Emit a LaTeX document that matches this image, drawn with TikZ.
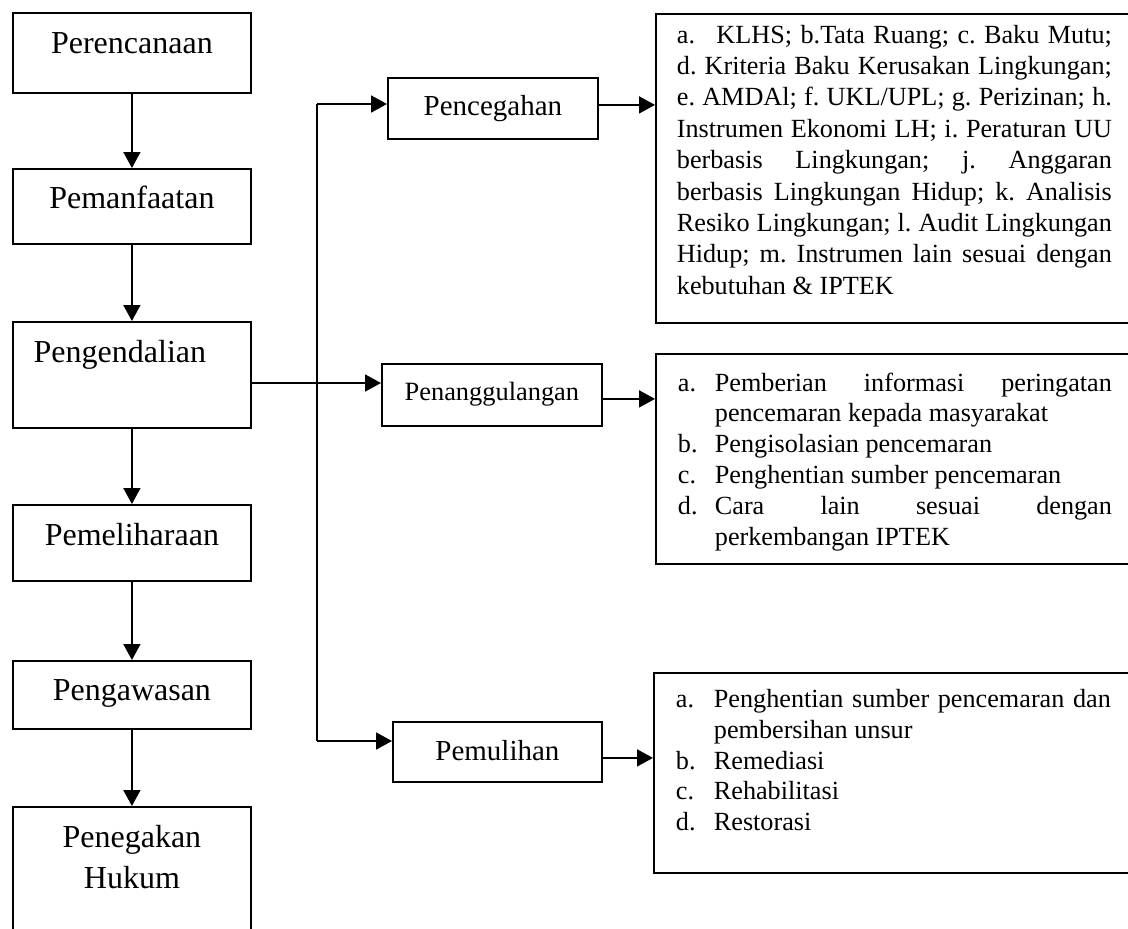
\documentclass[tikz,border=0pt]{standalone}
\usepackage{fontspec}
\setmainfont{Liberation Serif}
\usetikzlibrary{arrows.meta}
\frenchspacing
\newcommand{\hitem}[2][18.5pt]{\par\hangindent=#1\hangafter=1\noindent\makebox[#1][l]{#2}}
\begin{document}
\begin{tikzpicture}[x=0.5pt,y=-0.5pt,line width=0.9pt]
    \tikzstyle{stage}=[draw,anchor=north west,minimum width=119pt,inner sep=0pt,font=\fontsize{16}{20.5}\selectfont]
    \tikzstyle{branch}=[draw,anchor=north west,inner sep=0pt,font=\fontsize{14.5}{17}\selectfont]
    \tikzset{
    list box/.style={draw,anchor=north west,inner xsep=11pt,font=\fontsize{13.1}{15.4}\selectfont},
    arr/.style={-{Triangle[length=8pt,width=8.5pt]}}
    }
    \useasboundingbox (0,0) rectangle (1128,928);
    % left column
    \node[stage,text height=20.5pt,text depth=19.5pt] (perencanaan) at (12,12) {Perencanaan};
    \node[stage,text height=20pt,text depth=17.5pt] (pemanfaatan) at (12,168) {Pemanfaatan};
    \node[stage,text height=20.5pt,text depth=32.5pt] (pengendalian) at (12,321) {Pengendalian\hspace*{12pt}};
    \node[stage,text height=20.5pt,text depth=17.5pt] (pemeliharaan) at (12,504) {Pemeliharaan};
    \node[stage,text height=20pt,text depth=14pt] (pengawasan) at (12,660) {Pengawasan};
    \node[stage,text height=41pt,text depth=26pt] (penegakan) at (12,806) {\parbox[b]{119pt}{\centering Penegakan\\Hukum}};
    \draw[arr] (perencanaan) -- (pemanfaatan);
    \draw[arr] (pemanfaatan) -- (pengendalian);
    \draw[arr] (pengendalian) -- (pemeliharaan);
    \draw[arr] (pemeliharaan) -- (pengawasan);
    \draw[arr] (pengawasan) -- (penegakan);
    % middle column
    \node[branch,minimum width=105pt,text height=19pt,text depth=11.5pt] (pencegahan) at (387,77) {Pencegahan};
    \node[branch,minimum width=110pt,text height=18.5pt,text depth=12.5pt,font=\fontsize{13.2}{16}\selectfont] (penanggulangan) at (381,363) {Penanggulangan};
    \node[branch,minimum width=104.5pt,text height=19.5pt,text depth=10.5pt] (pemulihan) at (392,721) {Pemulihan};
    \coordinate (split) at (317,383);
    \coordinate (top) at (317,104);
    \coordinate (bottom) at (317,741);
    \draw (pengendalian.east |- split) -- (split);
    \draw (top) -- (bottom);
    \draw[arr] (split) -- (split -| penanggulangan.west);
    \draw[arr] (top) -- (top -| pencegahan.west);
    \draw[arr] (bottom) -- (bottom -| pemulihan.west);
    % right column
    \node[list box,inner xsep=10.5pt,inner ysep=5.5pt,font=\fontsize{13.1}{15.7}\selectfont] (instrumen) at (655,13) {\parbox[c][143.5pt][t]{217.5pt}{\sloppy\hyphenpenalty=10000
    a.\hspace{10.7pt}KLHS; b.Tata Ruang; c. Baku Mutu;\linebreak
    d. Kriteria Baku Kerusakan Lingkungan;\linebreak
    e. AMDAl; f. UKL/UPL; g. Perizinan; h.\linebreak
    Instrumen Ekonomi LH; i. Peraturan UU\linebreak
    berbasis Lingkungan; j. Anggaran\linebreak
    berbasis Lingkungan Hidup; k. Analisis\linebreak
    Resiko Lingkungan; l. Audit Lingkungan\linebreak
    Hidup; m. Instrumen lain sesuai dengan\linebreak
    kebutuhan \& IPTEK}};
    \node[list box,inner ysep=9.4pt] (langkah) at (655,353) {\parbox[c][86.2pt][t]{217pt}{\sloppy\hyphenpenalty=10000
    \hitem{a.}Pemberian informasi peringatan\linebreak pencemaran kepada masyarakat
    \hitem{b.}Pengisolasian pencemaran
    \hitem{c.}Penghentian sumber pencemaran
    \hitem{d.}Cara lain sesuai dengan\linebreak perkembangan IPTEK}};
    \node[list box,inner ysep=8.25pt] (pulih) at (653,672) {\parbox[c][83.5pt][t]{217.5pt}{\sloppy\hyphenpenalty=10000
    \hitem[19pt]{a.}Penghentian sumber pencemaran dan\linebreak pembersihan unsur
    \hitem[19pt]{b.}Remediasi
    \hitem[19pt]{c.}Rehabilitasi
    \hitem[19pt]{d.}Restorasi}};
    \coordinate (p1) at ([yshift=1.75pt]pencegahan.east);
    \coordinate (p2) at ([yshift=-2pt]penanggulangan.east);
    \coordinate (p3) at ([yshift=-3pt]pemulihan.east);
    \draw[arr] (p1) -- (p1 -| instrumen.west);
    \draw[arr] (p2) -- (p2 -| langkah.west);
    \draw[arr] (p3) -- (p3 -| pulih.west);
\end{tikzpicture}
\end{document}
